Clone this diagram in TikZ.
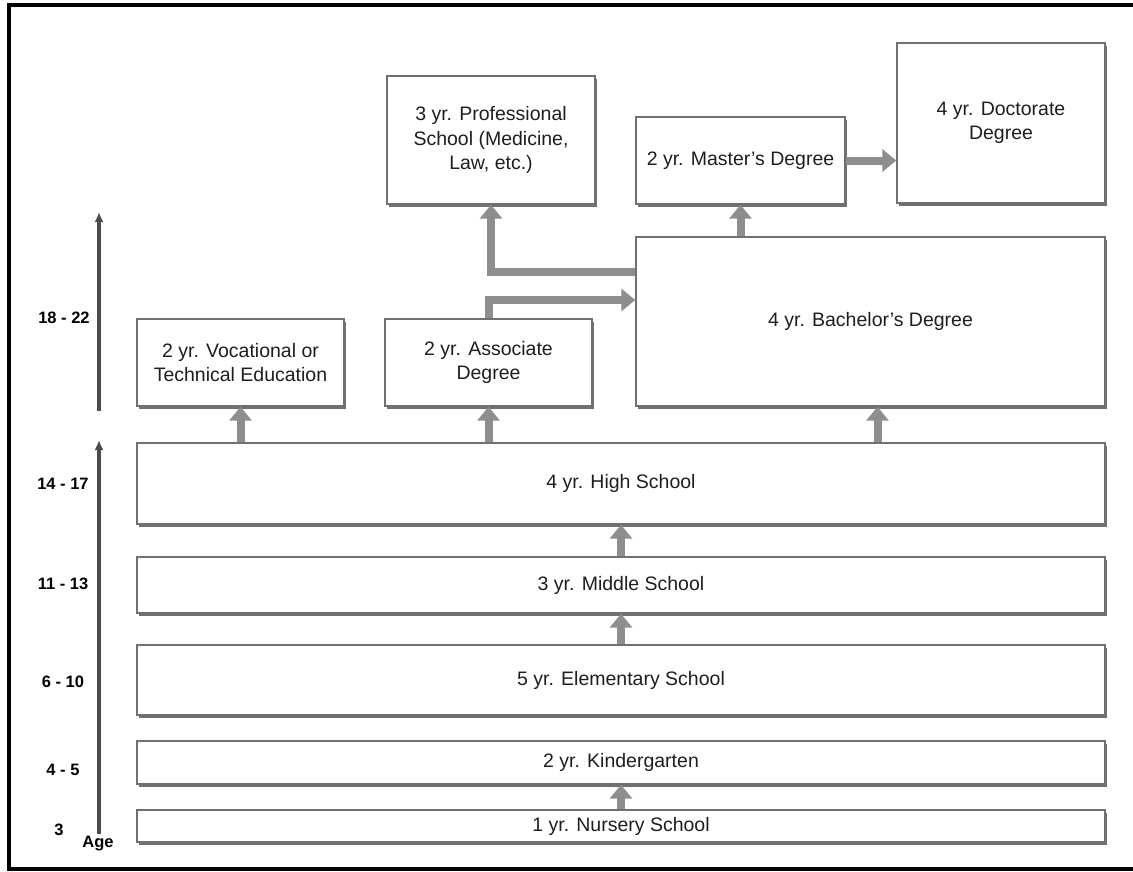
\documentclass[tikz,border=0pt]{standalone}
\usepackage{fontspec}
\setmainfont{Liberation Sans}
\usetikzlibrary{arrows.meta,shadows}
\definecolor{boxgray}{RGB}{112,112,112}
\definecolor{arrgray}{RGB}{142,142,142}
\definecolor{txtgray}{RGB}{30,30,30}
\begin{document}
\begin{tikzpicture}[x=1pt,y=-1pt,
    boxsty/.style={draw=boxgray,line width=1.4pt,fill=white,align=center,
      inner sep=0pt,text=txtgray,font=\fontsize{19.5}{24.5}\selectfont,
      drop shadow={shadow xshift=1.6pt,shadow yshift=-3pt,fill=boxgray,opacity=1}},
    bigarr/.style={draw=arrgray,line width=8pt,-{Triangle[width=22pt,length=14pt]}},
    agesty/.style={font=\fontsize{16.5}{19}\selectfont\bfseries},
    axissty/.style={draw=black!70,line width=3.2pt,-{Latex[length=10pt,width=9pt]}}]
  \useasboundingbox (0,0) rectangle (1133,871);
  % frame
  \draw[line width=3.5pt] (1140,5) -- (9,5) -- (9,869) -- (1140,869);

  % schools
  \node[boxsty,minimum width=968pt,minimum height=32pt] (nursery) at (621,826) {1 yr. Nursery School};
  \node[boxsty,minimum width=968pt,minimum height=43pt] (kinder) at (621,762.5) {2 yr. Kindergarten};
  \node[boxsty,minimum width=968pt,minimum height=70pt] (elem) at (621,680) {5 yr. Elementary School};
  \node[boxsty,minimum width=968pt,minimum height=56pt] (middle) at (621,585) {3 yr. Middle School};
  \node[boxsty,minimum width=968pt,minimum height=81pt] (high) at (621,483.5) {4 yr. High School};
  \node[boxsty,minimum width=207pt,minimum height=87pt] (voc) at (240.5,362.5)
    {2 yr. Vocational or\\Technical Education};
  \node[boxsty,minimum width=207pt,minimum height=87pt] (assoc) at (488.5,362.5)
    {2 yr. Associate\\Degree};
  \node[boxsty,minimum width=469pt,minimum height=169pt] (bach) at (870.5,321.5)
    {4 yr. Bachelor’s Degree};
  \node[boxsty,minimum width=208pt,minimum height=128pt] (prof) at (491,140)
    {3 yr. Professional\\School (Medicine,\\Law, etc.)};
  \node[boxsty,minimum width=209pt,minimum height=87pt] (master) at (740.5,160.5)
    {2 yr. Master’s Degree};
  \node[boxsty,minimum width=208pt,minimum height=160pt] (doct) at (1001,123)
    {4 yr. Doctorate\\Degree};

  % arrows between schools
  \draw[bigarr] (nursery.north) -- (kinder.south);
  \draw[bigarr] (elem.north) -- (middle.south);
  \draw[bigarr] (middle.north) -- (high.south);
  \draw[bigarr] (high.north -| voc.south) -- (voc.south);
  \draw[bigarr] (high.north -| assoc.south) -- (assoc.south);
  \draw[bigarr] ([xshift=7pt]bach.south |- high.north) -- ([xshift=7pt]bach.south);
  \draw[bigarr] (assoc.north) |- ([yshift=21.5pt]bach.west);
  \draw[bigarr] ([yshift=50pt]bach.west) -| (prof.south);
  \draw[bigarr] (bach.north -| master.south) -- (master.south);
  \draw[bigarr] (master.east) -- (doct.west |- master.east);

  % ages
  \node[agesty] (a1822) at (64,318) {18 - 22};
  \node[agesty] (a1417) at (63,484) {14 - 17};
  \node[agesty] (a1113) at (63,584) {11 - 13};
  \node[agesty] (a610) at (63,682) {6 - 10};
  \node[agesty] (a45) at (63,770) {4 - 5};
  \node[agesty] (a3) at (59,830) {3};
  \node[agesty] (age) at (98,844) {Age};
  \coordinate (ax0) at (99,834);
  \coordinate (ax1) at (99,440);
  \coordinate (ax2) at (99,411);
  \coordinate (ax3) at (99,212);
  \draw[axissty] (ax0) -- (ax1);
  \draw[axissty] (ax2) -- (ax3);
\end{tikzpicture}
\end{document}
